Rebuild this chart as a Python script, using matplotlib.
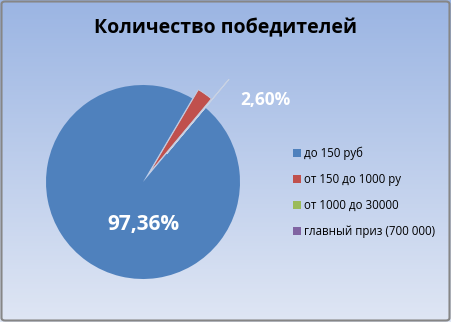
import numpy as np
import matplotlib.pyplot as plt
from matplotlib.patches import FancyBboxPatch

# data
categories = ["до 150 руб", "от 150 до 1000 ру", "от 1000 до 30000", "главный приз (700 000)"]
shares = [97.36, 2.60, 0.02, 0.02]
colors = ["#4f81bd", "#c0504d", "#9bbb59", "#8064a2"]
title = "Количество победителей"

W, H = 451, 322
fig = plt.figure(figsize=(W / 100, H / 100), dpi=100)
plt.rcParams['font.family'] = ['Open Sans', 'DejaVu Sans']

# gradient background
bg = fig.add_axes([0, 0, 1, 1])
top = np.array([155, 181, 227]) / 255
bot = np.array([223, 230, 244]) / 255
t = np.linspace(0, 1, 256)[:, None]
grad = top + (bot - top) * t
bg.imshow(grad[:, None, :].repeat(2, axis=1), aspect='auto', extent=[0, 1, 0, 1])
bg.set_xlim(0, 1)
bg.set_ylim(0, 1)
bg.axis('off')
bg.add_patch(FancyBboxPatch((1.5 / W, 1.5 / H), 1 - 3 / W, 1 - 3 / H,
                            boxstyle="round,pad=0,rounding_size=0.008",
                            fill=False, ec="#868686", lw=1.5,
                            transform=bg.transAxes))

# pie: centre (143, 182) px, radius 97 px
R = 97
cx, cy = 143, 182
span = 3 * R
ax = fig.add_axes([(cx - span / 2) / W, 1 - (cy + span / 2) / H, span / W, span / H])
wedges, _ = ax.pie(shares, colors=colors, startangle=50, counterclock=False,
                   explode=[0, 0.11, 0.38, 0.38], radius=1,
                   wedgeprops=dict(edgecolor='#c8d2e4', linewidth=0.6))
wedges[0].set_edgecolor('none')
ax.set_xlim(-1.5, 1.5)
ax.set_ylim(-1.5, 1.5)
ax.axis('off')

ax.text(0, -0.44, f"{shares[0]:.2f}%".replace('.', ','), color='white',
        fontsize=15, fontweight='bold', ha='center', va='center')
ax.text(1.26, 0.85, f"{shares[1]:.2f}%".replace('.', ','), color='white',
        fontsize=12.5, fontweight='bold', ha='center', va='center')

fig.text(0.5, 1 - 28 / H, title, ha='center', va='center',
         fontsize=14, fontweight='bold', color='black')

fig.legend(wedges, categories, loc='upper left',
           bbox_to_anchor=(287 / W, 1 - 141 / H), frameon=False,
           fontsize=8.3, labelspacing=1.13, handlelength=0.75, handleheight=0.75,
           handletextpad=0.25, borderpad=0)
for h in fig.legends[0].legend_handles:
    h.set_edgecolor('none')

fig.savefig("out.png", dpi=100)
